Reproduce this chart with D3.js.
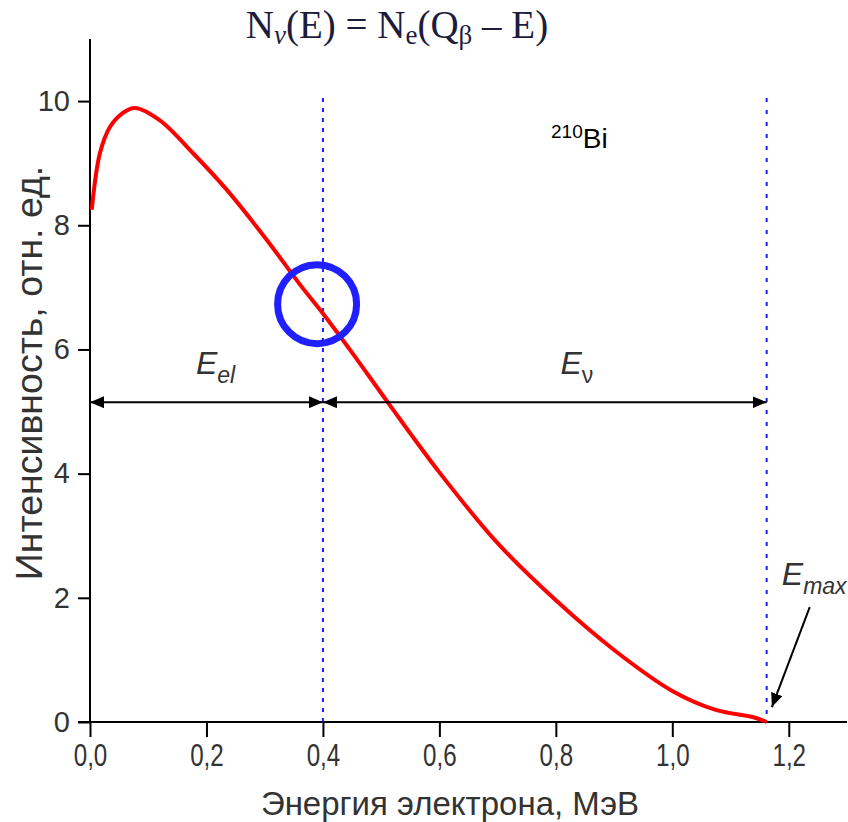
<!DOCTYPE html>
<html lang="ru">
<head>
<meta charset="utf-8">
<script src="https://d3js.org/d3.v7.min.js"></script>
<style>
  body { margin: 0; background: #fff; }
  svg text { font-family: "Liberation Sans", Arial, sans-serif; }
</style>
</head>
<body>
<div id="chart"></div>
<script>
// spectrum of 210Bi
const energy    = [0.003, 0.017, 0.034, 0.055, 0.077, 0.12, 0.177, 0.235, 0.304, 0.361, 0.4, 0.45, 0.512, 0.6, 0.7, 0.8, 0.9, 1.0, 1.076, 1.138, 1.162];
const intensity = [8.25, 9.16, 9.58, 9.80, 9.89, 9.69, 9.16, 8.57, 7.76, 7.04, 6.58, 5.95, 5.14, 4.02, 2.88, 1.96, 1.16, 0.50, 0.19, 0.08, 0.0];

const xMajor = [0, 0.2, 0.4, 0.6, 0.8, 1.0, 1.2];
const xMinor = [0.1, 0.3, 0.5, 0.7, 0.9, 1.1];
const yMajor = [0, 2, 4, 6, 8, 10];
const yMinor = [1, 3, 5, 7, 9, 11];

const eSplit = 0.4;     // electron energy marker
const eMax = 1.162;     // end point
const arrowLevel = 5.15;

const width = 848, height = 822;
const x = d3.scaleLinear().domain([0, 1.3]).range([90, 847]);
const y = d3.scaleLinear().domain([0, 11]).range([722, 39]);

const svg = d3.select("#chart").append("svg")
  .attr("width", width).attr("height", height);

const defs = svg.append("defs");
function marker(id, dir) {
  defs.append("marker")
    .attr("id", id)
    .attr("viewBox", "0 0 14 12")
    .attr("refX", dir === "end" ? 14 : 0).attr("refY", 6)
    .attr("markerWidth", 14).attr("markerHeight", 12)
    .attr("markerUnits", "userSpaceOnUse")
    .attr("orient", "auto")
    .append("path")
    .attr("d", dir === "end" ? "M0,0L14,6L0,12Z" : "M14,0L0,6L14,12Z")
    .attr("fill", "#000");
}
marker("arrEnd", "end");
marker("arrStart", "start");

// axes
const fmt = d => d3.format(".1f")(d).replace(".", ",");
const gx = svg.append("g").attr("transform", `translate(0,${y(0)})`);
gx.call(d3.axisBottom(x).tickValues(xMinor).tickSize(9).tickFormat(""));
gx.call(d3.axisBottom(x).tickValues(xMajor).tickSize(15).tickPadding(7).tickFormat(fmt));
gx.selectAll(".domain").remove();
gx.append("line").attr("x1", x(0) - 12).attr("x2", x(1.3)).attr("stroke", "#000").attr("stroke-width", 2);

const gy = svg.append("g").attr("transform", `translate(${x(0)},0)`);
gy.call(d3.axisLeft(y).tickValues(yMinor).tickSize(7).tickFormat(""));
gy.call(d3.axisLeft(y).tickValues(yMajor).tickSize(12).tickPadding(8).tickFormat(d3.format("d")));
gy.selectAll(".domain").remove();
gy.append("line").attr("y1", y(0)).attr("y2", y(11)).attr("stroke", "#000").attr("stroke-width", 2);

svg.selectAll(".tick line").attr("stroke", "#000").attr("stroke-width", 2);
gy.selectAll(".tick text").attr("fill", "#333").style("font-size", "29px");
gx.selectAll(".tick text").attr("fill", "#333").style("font-size", "31px")
  .attr("transform", "scale(0.78,1)");

// axis titles
svg.append("text")
  .attr("x", 450).attr("y", 815)
  .attr("text-anchor", "middle")
  .attr("fill", "#333")
  .style("font-size", "33px")
  .text("Энергия электрона, МэВ");

svg.append("text")
  .attr("transform", "translate(42,373) rotate(-90)")
  .attr("text-anchor", "middle")
  .attr("fill", "#333")
  .style("font-size", "37.5px")
  .text("Интенсивность, отн. ед.");

// title formula
const title = svg.append("text")
  .attr("x", 397).attr("y", 38)
  .attr("text-anchor", "middle")
  .attr("fill", "#1c1c3c")
  .style("font-family", "'Liberation Serif', 'Times New Roman', serif")
  .style("font-size", "39px");
title.append("tspan").text("N");
title.append("tspan").attr("dy", 6).style("font-size", "27px").style("font-style", "italic").text("ν");
title.append("tspan").attr("dy", -6).text("(E) = N");
title.append("tspan").attr("dy", 6).style("font-size", "27px").text("e");
title.append("tspan").attr("dy", -6).text("(Q");
title.append("tspan").attr("dy", 6).style("font-size", "27px").text("β");
title.append("tspan").attr("dy", -6).text(" – E)");

// dotted markers
svg.append("line")
  .attr("x1", x(eSplit)).attr("x2", x(eSplit))
  .attr("y1", y(10.05)).attr("y2", y(0))
  .attr("stroke", "#1a1aff").attr("stroke-width", 2)
  .attr("stroke-dasharray", "4,6");
svg.append("line")
  .attr("x1", x(eMax)).attr("x2", x(eMax))
  .attr("y1", y(10.05)).attr("y2", y(0))
  .attr("stroke", "#1a1aff").attr("stroke-width", 2)
  .attr("stroke-dasharray", "4,8");

// spectrum curve
const line = d3.line()
  .x((d, i) => x(energy[i]))
  .y(d => y(d))
  .curve(d3.curveCatmullRom.alpha(0.5));
svg.append("path")
  .datum(intensity)
  .attr("d", line)
  .attr("fill", "none")
  .attr("stroke", "#ff0000")
  .attr("stroke-width", 4);

// energy arrows
svg.append("line")
  .attr("x1", x(0)).attr("x2", x(eSplit))
  .attr("y1", y(arrowLevel)).attr("y2", y(arrowLevel))
  .attr("stroke", "#000").attr("stroke-width", 2)
  .attr("marker-start", "url(#arrStart)").attr("marker-end", "url(#arrEnd)");
svg.append("line")
  .attr("x1", x(eSplit)).attr("x2", x(eMax))
  .attr("y1", y(arrowLevel)).attr("y2", y(arrowLevel))
  .attr("stroke", "#000").attr("stroke-width", 2)
  .attr("marker-start", "url(#arrStart)").attr("marker-end", "url(#arrEnd)");

function subLabel(px, py, main, sub, size, subItalic) {
  const t = svg.append("text")
    .attr("x", px).attr("y", py)
    .attr("fill", "#333")
    .style("font-style", "italic")
    .style("font-size", size + "px");
  t.append("tspan").text(main);
  t.append("tspan").attr("dy", 9)
    .style("font-size", (size * 0.72) + "px")
    .style("font-style", subItalic ? "italic" : "normal")
    .text(sub);
  return t;
}
subLabel(x(0.182), y(5.6), "E", "el", 32, true);
subLabel(x(0.808), y(5.6), "E", "ν", 32, false);
subLabel(x(1.188), y(2.2), "E", "max", 32, true);

// Emax pointer
svg.append("line")
  .attr("x1", x(1.236)).attr("y1", y(1.85))
  .attr("x2", x(1.171)).attr("y2", y(0.24))
  .attr("stroke", "#000").attr("stroke-width", 2)
  .attr("marker-end", "url(#arrEnd)");

// isotope label
const iso = svg.append("text")
  .attr("x", 551).attr("y", 148)
  .attr("fill", "#000")
  .style("font-size", "28px");
iso.append("tspan").attr("dy", -10).style("font-size", "19px").text("210");
iso.append("tspan").attr("dy", 10).text("Bi");

// highlight circle
svg.append("circle")
  .attr("cx", x(0.39)).attr("cy", y(6.73))
  .attr("r", 39.5)
  .attr("fill", "none")
  .attr("stroke", "#1f1fff")
  .attr("stroke-width", 7);
</script>
</body>
</html>
